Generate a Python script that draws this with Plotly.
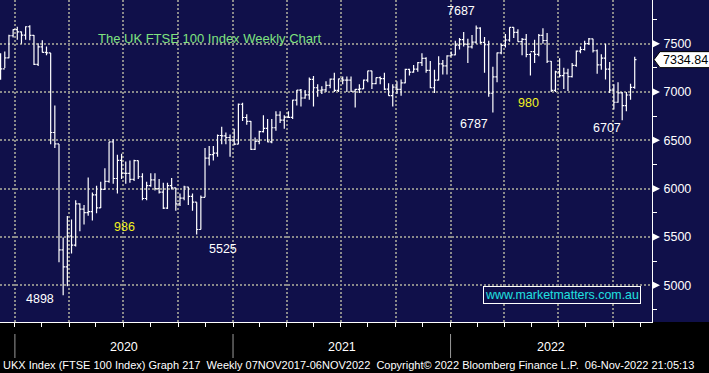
import pandas as pd
import plotly.graph_objects as go

# ---------------- data (weekly FTSE 100) ----------------
week_start = "2019-12-08"   # first weekly bar (week ending 06-Dec-2019)

opens = [
    7346, 7240, 7353, 7582,
    7645, 7622, 7588, 7675, 7586, 7286, 7467, 7409, 7404, 6581, 6463, 5366, 5191,
    5510, 5416, 5843, 5787, 5752, 5763, 5936, 5800, 5993, 6076, 6484, 6105, 6292,
    6159, 6157, 6095, 6290, 6123, 5898, 6032, 6090, 6001, 5964, 5799, 6032, 6007,
    5843, 5902, 6017, 5920, 5860, 5577, 5910, 6316, 6351, 6368, 6550, 6547, 6529, 6502,
    6461, 6873, 6736, 6695, 6407, 6489, 6589, 6624, 6483, 6630, 6761, 6709,
    6740, 6737, 6916, 7020, 6938, 6970, 7130, 7044, 7018, 7023, 7069, 7134, 7017,
    7136, 7123, 7122, 7008, 7028, 7032, 7122, 7218, 7087, 7148, 7138, 7029, 6963,
    7051, 7027, 7095, 7234, 7205, 7237, 7304, 7348, 7224, 7044, 7122, 7292, 7270, 7373,
    7385, 7485, 7543, 7494, 7466, 7516, 7661, 7513, 7489, 6987, 7156, 7405,
    7483, 7538, 7669, 7616, 7521, 7544, 7388, 7418, 7390, 7585, 7533, 7318, 7016,
    7208, 7169, 7196, 7159, 7276, 7423, 7440, 7501, 7550, 7427, 7281, 7351, 7237, 7019,
    6894, 6991, 6858, 6969, 7048,
]
highs = [
    7400, 7420, 7593, 7650,
    7675, 7626, 7680, 7690, 7590, 7505, 7535, 7470, 7404, 6860, 6463, 5494, 5716,
    5680, 5880, 5850, 5830, 6115, 5960, 6030, 6070, 6210, 6485, 6511, 6350, 6360,
    6280, 6290, 6300, 6290, 6160, 6070, 6160, 6160, 6100, 6060, 6060, 6110, 6010,
    5950, 6030, 6020, 5950, 5860, 5930, 6420, 6440, 6440, 6560, 6640, 6580, 6560, 6620,
    6880, 6890, 6770, 6700, 6530, 6600, 6760, 6720, 6720, 6800, 6800, 6760,
    6800, 6920, 7020, 7030, 7020, 7150, 7165, 7080, 7060, 7110, 7140, 7200, 7140,
    7160, 7160, 7160, 7030, 7080, 7130, 7220, 7220, 7150, 7160, 7200, 7090, 7080,
    7110, 7130, 7240, 7240, 7280, 7310, 7400, 7360, 7320, 7230, 7370, 7330, 7380, 7420,
    7530, 7560, 7620, 7550, 7590, 7687, 7670, 7570, 7530, 7260, 7410, 7500,
    7600, 7670, 7670, 7650, 7560, 7600, 7400, 7540, 7600, 7660, 7610, 7320, 7220,
    7350, 7250, 7240, 7300, 7430, 7470, 7530, 7560, 7550, 7440, 7390, 7500, 7310, 7080,
    7100, 7000, 7000, 7085, 7365,
]
lows = [
    7127, 7248, 7350, 7565,
    7540, 7500, 7540, 7535, 7280, 7270, 7410, 7380, 6460, 6420, 5237, 4898, 4990,
    5330, 5400, 5560, 5630, 5720, 5670, 5745, 5800, 5990, 6060, 6050, 5950, 6100,
    6050, 6060, 6080, 6100, 5880, 5880, 6020, 5980, 5950, 5790, 5790, 5990, 5770,
    5820, 5880, 5830, 5770, 5525, 5576, 5910, 6240, 6290, 6330, 6460, 6460, 6330, 6450,
    6460, 6700, 6660, 6400, 6400, 6460, 6580, 6480, 6470, 6600, 6680, 6620,
    6730, 6720, 6860, 6850, 6930, 6920, 6850, 6950, 6980, 7000, 7040, 7000, 7000,
    7080, 7000, 7000, 6840, 6990, 7030, 7100, 7030, 7080, 7080, 7020, 6960, 6850,
    6980, 6960, 7090, 7170, 7200, 7210, 7270, 7200, 7040, 6990, 7120, 7180, 7180, 7370,
    7380, 7440, 7470, 7300, 7450, 7500, 7500, 7200, 6950, 6787, 7100, 7390,
    7460, 7520, 7560, 7520, 7380, 7360, 7170, 7300, 7370, 7500, 7300, 7000, 7000,
    7150, 7030, 7010, 7150, 7260, 7400, 7430, 7490, 7410, 7190, 7230, 7130, 6990, 6820,
    6890, 6707, 6800, 6920, 7033,
]
closes = [
    7240, 7353, 7582, 7645,
    7622, 7588, 7675, 7586, 7286, 7467, 7409, 7404, 6581, 6463, 5366, 5191, 5510,
    5416, 5843, 5787, 5752, 5763, 5936, 5800, 5993, 6076, 6484, 6105, 6292, 6159,
    6157, 6095, 6290, 6123, 5898, 6032, 6090, 6001, 5964, 5799, 6032, 6007, 5843,
    5902, 6017, 5920, 5860, 5577, 5910, 6316, 6351, 6368, 6550, 6547, 6529, 6502, 6461,
    6873, 6736, 6695, 6407, 6489, 6589, 6624, 6483, 6630, 6761, 6709, 6740,
    6737, 6916, 7020, 6938, 6970, 7130, 7044, 7018, 7023, 7069, 7134, 7017, 7136,
    7123, 7122, 7008, 7028, 7032, 7122, 7218, 7087, 7148, 7138, 7029, 6963, 7051,
    7027, 7095, 7234, 7205, 7237, 7304, 7348, 7224, 7044, 7122, 7292, 7270, 7373, 7385,
    7485, 7543, 7494, 7466, 7516, 7661, 7513, 7489, 6987, 7156, 7405, 7483,
    7538, 7669, 7616, 7521, 7544, 7388, 7418, 7390, 7585, 7533, 7318, 7016, 7208,
    7169, 7196, 7159, 7276, 7423, 7440, 7501, 7550, 7427, 7281, 7351, 7237, 7019, 6894,
    6991, 6858, 6969, 7048, 7334.84,
]
assert len(opens) == len(highs) == len(lows) == len(closes)

dates = pd.date_range(week_start, periods=len(closes), freq="7D")

y_ticks = [5000, 5500, 6000, 6500, 7000, 7500]
y_minor = [4750, 5250, 5750, 6250, 6750, 7250, 7750]
year_labels = ["2020", "2021", "2022"]
year_starts = ["2020-01-01", "2021-01-01", "2022-01-01"]
year_centers = ["2020-07-02", "2021-07-02", "2022-06-19"]
callouts = [  # text, x px, y px, colour
    ("4898", 40, 299, "white"),
    ("986", 124.5, 226.5, "#f2f21e"),
    ("5525", 223, 248.5, "white"),
    ("7687", 460.5, 11, "white"),
    ("6787", 473.5, 124, "white"),
    ("980", 528, 103, "#f2f21e"),
    ("6707", 607, 128, "white"),
]
title_text = "The UK FTSE 100 Index Weekly Chart"
footer_text = ("UKX Index (FTSE 100 Index) Graph 217  Weekly 07NOV2017-06NOV2022  "
               "Copyright\u00a9 2022 Bloomberg Finance L.P.  06-Nov-2022 21:05:13")
watermark = "www.marketmatters.com.au"

# ---------------- layout constants ----------------
W, H = 709, 373
PW, PH = 652, 322          # plot area size
NAVY = "#10104a"
GRID = "#8a8a8a"
FONT = "Liberation Sans, Arial, sans-serif"
x_range = ["2019-12-07", "2022-12-05"]
y_range = [4620, 7952]
ppx = (y_range[1] - y_range[0]) / PH    # price per pixel


def px(x):
    return x / PW


def py(y):
    return 1 - y / PH


fig = go.Figure()
fig.add_trace(go.Ohlc(
    x=dates, open=opens, high=highs, low=lows, close=closes,
    increasing=dict(line=dict(color="white", width=1.2)),
    decreasing=dict(line=dict(color="white", width=1.2)),
    tickwidth=0.42, hoverinfo="skip", showlegend=False,
))

quarters = pd.date_range("2019-10-01", "2023-01-01", freq="QS")
halfq = quarters + pd.Timedelta(days=45)

fig.update_layout(
    width=W, height=H,
    margin=dict(l=0, r=W - PW, t=0, b=H - PH, pad=0),
    paper_bgcolor="black", plot_bgcolor=NAVY,
    font=dict(family=FONT, color="white", size=12.5),
    showlegend=False,
    xaxis=dict(
        type="date", range=x_range, rangeslider=dict(visible=False),
        tickvals=list(quarters), showticklabels=False,
        ticks="outside", ticklen=4, tickcolor="white", tickwidth=1,
        showgrid=True, gridcolor=GRID, gridwidth=2, griddash="2px,2px",
        showline=True, linecolor="white", linewidth=1,
        zeroline=False, fixedrange=True,
        minor=dict(tickvals=list(halfq), ticks="outside", ticklen=4,
                   tickcolor="white", tickwidth=1, showgrid=False),
    ),
    yaxis=dict(
        side="right", range=y_range, tickvals=y_ticks,
        ticktext=[str(v) for v in y_ticks],
        ticks="outside", ticklen=8, tickcolor=NAVY, tickwidth=1,
        tickfont=dict(size=12.5, color="white", family=FONT),
        showgrid=True, gridcolor=GRID, gridwidth=2, griddash="2px,2px",
        showline=True, linecolor="white", linewidth=1,
        zeroline=False, fixedrange=True,
        minor=dict(tickvals=y_minor, ticks="outside", ticklen=4,
                   tickcolor="white", tickwidth=1, showgrid=False),
    ),
)

shapes = []
# navy right margin panel
shapes.append(dict(type="rect", xref="paper", yref="paper", x0=1, x1=W / PW + 0.01,
                   y0=0, y1=1.001, fillcolor=NAVY, line=dict(width=0), layer="below"))
# triangles at major y ticks
for v in y_ticks:
    d = 3.5 * ppx
    shapes.append(dict(type="path", xref="paper", yref="y",
                       path=f"M {px(PW + 1)},{v + d} L {px(PW + 8)},{v} L {px(PW + 1)},{v - d} Z",
                       fillcolor="white", line=dict(width=0), layer="above"))
# last price box
last = closes[-1]
d = 8 * ppx
shapes.append(dict(type="path", xref="paper", yref="y",
                   path=(f"M {px(PW + 2)},{last} L {px(PW + 8)},{last + d} "
                         f"L {px(W + 2)},{last + d} L {px(W + 2)},{last - d} "
                         f"L {px(PW + 8)},{last - d} Z"),
                   fillcolor="white", line=dict(color="black", width=1), layer="above"))
# year separators
for ys in year_starts:
    shapes.append(dict(type="line", xref="x", yref="paper", x0=ys, x1=ys,
                       y0=py(334), y1=py(358), line=dict(color="#9a9a9a", width=1)))
fig.update_layout(shapes=shapes)

ann = []
ann.append(dict(text=f"{last:.2f}", xref="paper", yref="y", x=px(PW + 9), y=last,
                xanchor="left", yanchor="middle", showarrow=False,
                font=dict(color="black", size=12.5, family=FONT)))
for t, xc, yc, col in callouts:
    ann.append(dict(text=t, xref="paper", yref="paper", x=px(xc), y=py(yc),
                    xanchor="center", yanchor="middle", showarrow=False,
                    font=dict(color=col, size=12.5, family=FONT)))
ann.append(dict(text=title_text, xref="paper", yref="paper", x=px(96), y=py(38),
                xanchor="left", yanchor="middle", showarrow=False,
                font=dict(color="#7fe27f", size=13, family=FONT)))
ann.append(dict(text=watermark, xref="paper", yref="paper", x=px(562), y=py(294.5),
                xanchor="center", yanchor="middle", showarrow=False,
                font=dict(color="#20e0e0", size=12.4, family=FONT),
                bordercolor="white", borderwidth=1, borderpad=1, bgcolor=NAVY))
for lab, xc in zip(year_labels, year_centers):
    ann.append(dict(text=lab, xref="x", yref="paper", x=xc, y=py(347),
                    xanchor="center", yanchor="middle", showarrow=False,
                    font=dict(color="white", size=12.5, family=FONT)))
ann.append(dict(text=footer_text, xref="paper", yref="paper", x=px(1), y=py(365),
                xanchor="left", yanchor="middle", showarrow=False,
                font=dict(color="white", size=11.0, family=FONT)))
fig.update_layout(annotations=ann)

fig.write_html(
    "out.html",
    config={"displayModeBar": False},
    post_script="document.body.style.margin='0';document.body.style.overflow='hidden';",
)
